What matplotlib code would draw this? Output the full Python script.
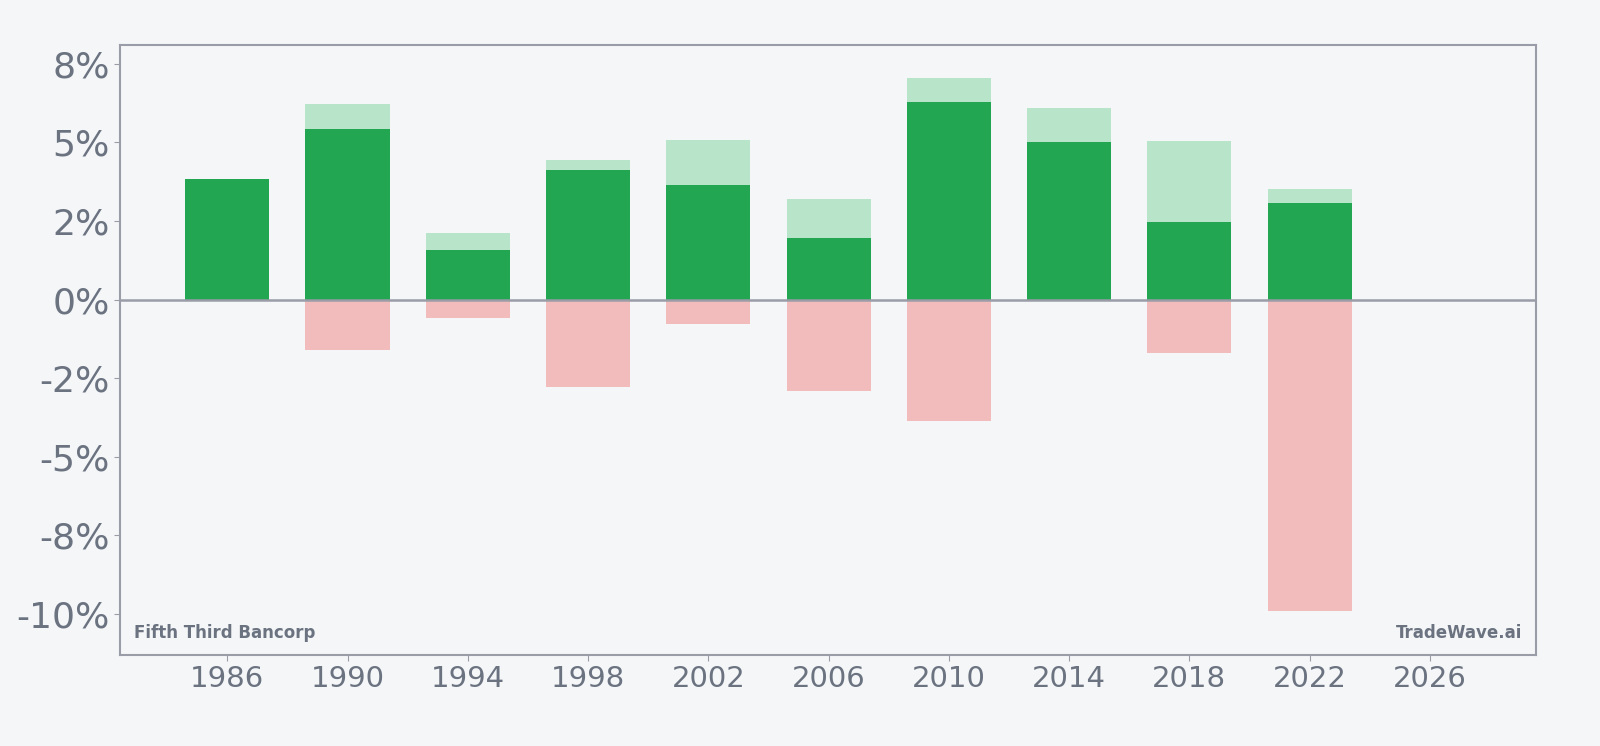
import matplotlib.pyplot as plt
from matplotlib.ticker import FuncFormatter

# yearly returns (%), grouped every 4 years
years = [1986, 1990, 1994, 1998, 2002, 2006, 2010, 2014, 2018, 2022]
close_ret = [3.83, 5.42, 1.56, 4.12, 3.64, 1.95, 6.27, 5.00, 2.47, 3.08]
high_ret = [3.83, 6.23, 2.11, 4.45, 5.06, 3.21, 7.05, 6.10, 5.03, 3.51]
low_ret = [0.0, -1.59, -0.58, -2.79, -0.78, -2.92, -3.86, 0.0, -1.69, -9.90]

bg = "#f4f6f8"
txt = "#6b7280"
edge = "#9a9ca8"

fig = plt.figure(figsize=(16, 7.46), dpi=100, facecolor=bg)
ax = fig.add_axes([0.075, 0.122, 0.885, 0.818])
ax.set_facecolor(bg)

w = 2.8
ax.bar(years, high_ret, width=w, color="#b8e4c9", zorder=2)
ax.bar(years, close_ret, width=w, color="#22a652", zorder=3)
ax.bar(years, low_ret, width=w, color="#f3bcbc", zorder=2)
ax.axhline(0, color=edge, lw=1.8, zorder=4)

ax.set_xlim(1982.43, 2029.53)
ax.set_ylim(-11.3, 8.1)
ax.set_xticks(range(1986, 2027, 4))
ax.set_yticks([-10, -7.5, -5, -2.5, 0, 2.5, 5, 7.5])
ax.yaxis.set_major_formatter(FuncFormatter(lambda v, p: "{:.0f}%".format(v)))

ax.tick_params(axis="y", labelsize=26, colors=txt, length=4, color=edge)
ax.tick_params(axis="x", labelsize=21, colors=txt, length=4, color=edge)
for s in ax.spines.values():
    s.set_color(edge)
    s.set_linewidth(1.5)

ax.text(0.01, 0.022, "Fifth Third Bancorp", transform=ax.transAxes,
        fontsize=12, fontweight="bold", color=txt, ha="left", va="bottom")
ax.text(0.99, 0.022, "TradeWave.ai", transform=ax.transAxes,
        fontsize=12, fontweight="bold", color=txt, ha="right", va="bottom")

fig.savefig("out.png", dpi=100, facecolor=bg)
